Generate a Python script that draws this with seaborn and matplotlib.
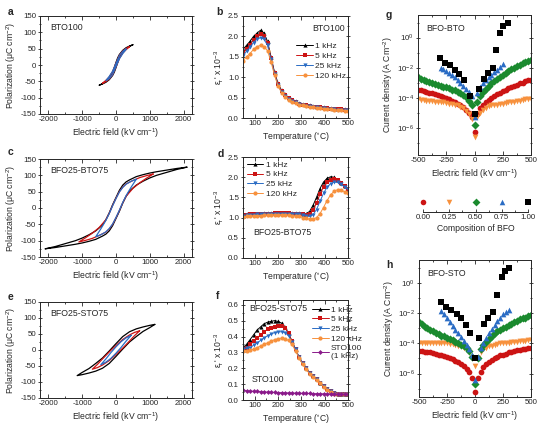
import numpy as np
import matplotlib
matplotlib.use("Agg")
import matplotlib.pyplot as plt
import matplotlib.ticker as mticker
import seaborn as sns

# ==========================================
# DATA

# hysteresis loops (upper branch, field going from +Emax to -Emax)
a_blk_E = [500, 400, 300, 200, 100, 50, 0, -50, -100, -200, -300, -400, -500]
a_blk_P = [62, 58, 53, 45, 32, 22, 8, -8, -22, -38, -49, -57, -62]
a_red_E = [400, 300, 200, 100, 0, -100, -200, -300, -400]
a_red_P = [56, 51, 43, 30, 6, -20, -37, -47, -56]
a_blu_E = [300, 200, 100, 0, -100, -200, -300]
a_blu_P = [50, 42, 29, 5, -19, -35, -48]

c_blk_E = [2100, 1800, 1500, 1200, 1000, 800, 600, 400, 300, 200, 100, 0,
           -100, -200, -300, -400, -600, -800, -1000, -1200, -1500, -1800, -2100]
c_blk_P = [125, 121, 116, 111, 107, 102, 96, 86, 80, 70, 54, 32,
           10, -15, -36, -52, -70, -82, -92, -100, -109, -118, -125]
c_red_E = [1100, 900, 700, 500, 300, 200, 100, 0, -100, -200, -300, -500, -700, -900, -1100]
c_red_P = [104, 99, 93, 84, 74, 64, 50, 30, 8, -16, -36, -60, -77, -91, -104]
c_blu_E = [600, 450, 300, 200, 100, 0, -100, -200, -300, -450, -600]
c_blu_P = [88, 82, 73, 63, 49, 29, 7, -17, -38, -64, -88]

e_blk_E = [1150, 1000, 800, 600, 400, 200, 0, -200, -400, -600, -800, -1000, -1150]
e_blk_P = [80, 77, 72, 66, 57, 42, 20, -3, -25, -42, -58, -70, -80]
e_red_E = [700, 550, 400, 200, 0, -200, -400, -550, -700]
e_red_P = [60, 55, 47, 33, 14, -6, -28, -45, -60]
e_blu_E = [450, 300, 150, 0, -150, -300, -450]
e_blu_P = [46, 38, 26, 10, -8, -28, -46]

# permittivity vs temperature (x 10^3)
temp = np.arange(50, 501, 15)
freqs = ["1 kHz", "5 kHz", "25 kHz", "120 kHz"]

b_1k = [1.68, 1.78, 1.88, 2.0, 2.08, 2.15, 2.08, 1.88, 1.5, 1.12, 0.85, 0.68, 0.58, 0.5, 0.45, 0.41,
        0.37, 0.35, 0.33, 0.31, 0.29, 0.28, 0.27, 0.26, 0.25, 0.24, 0.23, 0.22, 0.22, 0.21, 0.21]
b_5k = [1.6, 1.7, 1.8, 1.92, 2.0, 2.05, 2.0, 1.83, 1.47, 1.1, 0.83, 0.66, 0.56, 0.48, 0.43, 0.39,
        0.35, 0.33, 0.31, 0.3, 0.28, 0.27, 0.26, 0.25, 0.24, 0.23, 0.22, 0.21, 0.21, 0.2, 0.2]
b_25k = [1.53, 1.63, 1.73, 1.85, 1.93, 1.97, 1.93, 1.78, 1.44, 1.08, 0.81, 0.64, 0.54, 0.47, 0.42, 0.38,
         0.34, 0.32, 0.3, 0.29, 0.27, 0.26, 0.25, 0.24, 0.23, 0.22, 0.21, 0.2, 0.2, 0.19, 0.19]
b_120k = [1.4, 1.5, 1.58, 1.68, 1.75, 1.78, 1.75, 1.65, 1.38, 1.05, 0.79, 0.62, 0.52, 0.45, 0.4, 0.36,
          0.33, 0.31, 0.29, 0.28, 0.26, 0.25, 0.24, 0.23, 0.22, 0.21, 0.2, 0.19, 0.19, 0.18, 0.18]

d_1k = [1.07, 1.08, 1.09, 1.09, 1.1, 1.1, 1.11, 1.11, 1.12, 1.12, 1.12, 1.12, 1.12, 1.12, 1.12, 1.12,
        1.11, 1.1, 1.1, 1.15, 1.3, 1.5, 1.72, 1.88, 1.97, 2.01, 2.0, 1.93, 1.85, 1.78, 1.72]
d_5k = [1.06, 1.07, 1.08, 1.08, 1.09, 1.09, 1.1, 1.1, 1.1, 1.11, 1.11, 1.11, 1.11, 1.11, 1.1, 1.1,
        1.09, 1.08, 1.07, 1.08, 1.18, 1.36, 1.58, 1.76, 1.88, 1.94, 1.96, 1.92, 1.85, 1.78, 1.72]
d_25k = [1.05, 1.06, 1.07, 1.07, 1.08, 1.08, 1.09, 1.09, 1.09, 1.1, 1.1, 1.1, 1.1, 1.1, 1.09, 1.09,
         1.08, 1.06, 1.04, 1.03, 1.07, 1.2, 1.4, 1.6, 1.75, 1.84, 1.88, 1.87, 1.82, 1.76, 1.7]
d_120k = [1.02, 1.03, 1.04, 1.04, 1.05, 1.05, 1.06, 1.06, 1.06, 1.07, 1.07, 1.07, 1.07, 1.06, 1.05, 1.04,
          1.03, 1.0, 0.98, 0.96, 0.96, 1.0, 1.1, 1.25, 1.42, 1.56, 1.65, 1.69, 1.68, 1.64, 1.6]

f_1k = [0.33, 0.35, 0.38, 0.41, 0.44, 0.46, 0.48, 0.49, 0.495, 0.5, 0.495, 0.485, 0.46, 0.42, 0.37, 0.32,
        0.27, 0.23, 0.2, 0.17, 0.15, 0.13, 0.11, 0.09, 0.07, 0.055, 0.045, 0.04, 0.04, 0.04, 0.04]
f_5k = [0.32, 0.33, 0.35, 0.37, 0.39, 0.41, 0.43, 0.445, 0.455, 0.46, 0.465, 0.465, 0.455, 0.42, 0.37, 0.32,
        0.27, 0.23, 0.2, 0.17, 0.15, 0.13, 0.11, 0.09, 0.07, 0.055, 0.045, 0.04, 0.04, 0.04, 0.04]
f_25k = [0.32, 0.325, 0.33, 0.345, 0.36, 0.375, 0.39, 0.405, 0.415, 0.425, 0.43, 0.43, 0.425, 0.405, 0.365, 0.32,
         0.27, 0.23, 0.2, 0.17, 0.15, 0.13, 0.11, 0.09, 0.07, 0.055, 0.045, 0.04, 0.04, 0.04, 0.04]
f_120k = [0.31, 0.31, 0.315, 0.32, 0.33, 0.34, 0.35, 0.36, 0.37, 0.38, 0.385, 0.39, 0.385, 0.375, 0.35, 0.31,
          0.265, 0.225, 0.195, 0.165, 0.145, 0.125, 0.105, 0.085, 0.065, 0.05, 0.04, 0.035, 0.035, 0.035, 0.035]
f_sto = [0.06, 0.058, 0.056, 0.055, 0.054, 0.052, 0.051, 0.05, 0.049, 0.048, 0.047, 0.046, 0.045, 0.045, 0.044, 0.043,
         0.043, 0.042, 0.041, 0.041, 0.04, 0.04, 0.039, 0.039, 0.038, 0.038, 0.037, 0.037, 0.036, 0.036, 0.036]

# leakage current, log10(J)
field = np.arange(-500, 501, 25)
compositions = [0.00, 0.25, 0.50, 0.75, 1.00]

g_000 = [-3.45, -3.5, -3.55, -3.6, -3.65, -3.7, -3.75, -3.8, -3.9, -3.95, -4.0, -4.1, -4.2, -4.3, -4.4, -4.5,
         -4.6, -4.8, -5.0, -5.3, -6.3, -5.1, -4.7, -4.5, -4.3, -4.15, -4.0, -3.9, -3.75, -3.65, -3.55, -3.45,
         -3.35, -3.3, -3.2, -3.15, -3.05, -3.0, -2.9, -2.85, -2.8]
g_025 = [-4.1, -4.15, -4.15, -4.2, -4.2, -4.2, -4.25, -4.25, -4.3, -4.3, -4.35, -4.4, -4.4, -4.45, -4.5, -4.6,
         -4.7, -4.85, -5.05, -5.4, -6.6, -5.3, -5.0, -4.8, -4.65, -4.55, -4.5, -4.45, -4.45, -4.4, -4.4, -4.35,
         -4.3, -4.3, -4.25, -4.2, -4.2, -4.15, -4.1, -4.1, -4.05]
g_050 = [-2.65, -2.75, -2.85, -2.9, -2.95, -3.0, -3.1, -3.15, -3.2, -3.25, -3.3, -3.35, -3.45, -3.5, -3.6, -3.7,
         -3.8, -3.95, -4.2, -4.5, -5.8, -4.3, -3.9, -3.6, -3.4, -3.2, -3.05, -2.9, -2.75, -2.6, -2.5, -2.35,
         -2.25, -2.1, -2.0, -1.9, -1.8, -1.7, -1.65, -1.55, -1.5]
g_075_E = np.arange(-300, 251, 25)
g_075 = [-2.0, -2.1, -2.2, -2.35, -2.5, -2.65, -2.8, -3.0, -3.2, -3.4, -3.6, -3.9, -5.3, -3.7, -3.3, -3.05,
         -2.85, -2.65, -2.5, -2.3, -2.15, -1.95, -1.75]
g_100_E = [-305, -262, -220, -176, -136, -95, -42, 0, 41, 83, 121, 160, 189, 225, 254, 299]
g_100 = [-1.38, -1.67, -1.85, -2.15, -2.4, -2.85, -3.85, -5.1, -3.4, -2.75, -2.35, -2.0, -0.85, 0.3, 0.75, 0.95]

h_000 = [-4.5, -4.5, -4.55, -4.55, -4.6, -4.65, -4.7, -4.75, -4.8, -4.85, -4.9, -5.0, -5.05, -5.15, -5.25, -5.35,
         -5.5, -5.7, -5.9, -6.3, -7.2, -6.3, -5.9, -5.6, -5.4, -5.25, -5.1, -5.0, -4.9, -4.8, -4.75, -4.7,
         -4.6, -4.55, -4.5, -4.45, -4.45, -4.4, -4.35, -4.3, -4.3]
h_025 = [-3.95, -3.95, -3.95, -3.95, -4.0, -4.0, -4.0, -4.0, -4.0, -4.0, -4.0, -4.05, -4.05, -4.1, -4.15, -4.2,
         -4.3, -4.45, -4.6, -5.0, -5.5, -5.0, -4.6, -4.4, -4.3, -4.2, -4.15, -4.1, -4.05, -4.0, -4.0, -3.95,
         -3.95, -3.9, -3.9, -3.9, -3.85, -3.85, -3.85, -3.8, -3.8]
h_050 = [-2.6, -2.75, -2.9, -3.0, -3.1, -3.2, -3.3, -3.4, -3.5, -3.55, -3.65, -3.7, -3.8, -3.9, -4.0, -4.1,
         -4.2, -4.3, -4.5, -4.9, -6.7, -5.0, -4.4, -4.1, -3.9, -3.7, -3.5, -3.35, -3.2, -3.1, -3.0, -2.9,
         -2.8, -2.7, -2.6, -2.5, -2.4, -2.35, -2.3, -2.2, -2.15]
h_075_E = np.arange(-300, 301, 25)
h_075 = [-1.9, -2.1, -2.35, -2.6, -2.85, -3.1, -3.35, -3.6, -3.85, -4.1, -4.4, -4.8, -6.4, -4.9, -4.3, -3.95,
         -3.65, -3.35, -3.05, -2.8, -2.55, -2.3, -2.1, -1.95, -1.8]
h_100_E = [-300, -255, -210, -165, -121, -82, -46, 0, 37, 79, 118, 157, 193, 237, 267, 303]
h_100 = [-1.3, -1.6, -1.8, -2.1, -2.3, -2.8, -3.3, -5.0, -3.65, -2.7, -2.3, -1.95, -0.8, 0.4, 0.8, 0.95]

# ==========================================
# STYLE

sns.set_style("ticks")
plt.rcParams["font.family"] = ["Liberation Sans", "DejaVu Sans"]
plt.rcParams["axes.unicode_minus"] = False
plt.rcParams["mathtext.default"] = "regular"
plt.rcParams["axes.linewidth"] = 0.7

BLACK = "#000000"
RED = "#cc1414"
BLUE = "#2a6cc4"
ORANGE = "#f7913d"
GREEN = "#1a8a2e"
PURPLE = "#8a1a8a"
freq_colors = [BLACK, RED, BLUE, ORANGE]
freq_markers = ["^", "s", "v", "o"]
comp_colors = [RED, ORANGE, GREEN, BLUE, BLACK]
comp_markers = ["o", "v", "D", "^", "s"]

W, H = 549, 436
fig = plt.figure(figsize=(W / 100, H / 100), dpi=100)


def add_ax(left, top, right, bottom):
    return fig.add_axes([left / W, 1 - bottom / H, (right - left) / W, (bottom - top) / H])


def style(ax):
    ax.tick_params(which="both", top=True, right=True, labelsize=5.7, width=0.6, pad=1.5)
    ax.tick_params(axis="x", which="both", direction="in")
    ax.tick_params(axis="y", which="both", direction="inout")
    ax.tick_params(which="major", length=2.8)
    ax.tick_params(which="minor", length=1.6)
    ax.xaxis.label.set_size(6.2)
    ax.yaxis.label.set_size(6.2)
    ax.xaxis.labelpad = 2
    ax.yaxis.labelpad = 1.5


def panel_letter(x, y, s):
    fig.text(x / W, 1 - y / H, s, fontsize=7.5, fontweight="bold", va="center", ha="left")


# ==========================================
# HYSTERESIS LOOPS


def loop(ax, E, P, color):
    # lower branch is the point reflection of the upper one
    E = np.asarray(E, dtype=float)
    P = np.asarray(P, dtype=float)
    xs = np.concatenate([E, -E[1:]])
    ys = np.concatenate([P, -P[1:]])
    sns.lineplot(x=xs, y=ys, sort=False, estimator=None, color=color, lw=0.9, ax=ax)


def pe_axes(ax, name):
    ax.set_xlim(-2250, 2250)
    ax.set_ylim(-150, 150)
    ax.xaxis.set_major_locator(mticker.MultipleLocator(1000))
    ax.xaxis.set_minor_locator(mticker.MultipleLocator(500))
    ax.yaxis.set_major_locator(mticker.MultipleLocator(50))
    ax.yaxis.set_minor_locator(mticker.MultipleLocator(25))
    ax.set_xlabel("Electric field (kV cm$^{-1}$)")
    ax.set_ylabel("Polarization ($\\mu$C cm$^{-2}$)")
    ax.text(0.07, 0.88, name, transform=ax.transAxes, fontsize=6.3, va="center")
    style(ax)


ax_a = add_ax(40, 16, 192, 114)
loop(ax_a, a_blk_E, a_blk_P, BLACK)
loop(ax_a, a_red_E, a_red_P, RED)
loop(ax_a, a_blu_E, a_blu_P, BLUE)
pe_axes(ax_a, "BTO100")

ax_c = add_ax(40, 159, 192, 257)
loop(ax_c, c_blk_E, c_blk_P, BLACK)
loop(ax_c, c_red_E, c_red_P, RED)
loop(ax_c, c_blu_E, c_blu_P, BLUE)
pe_axes(ax_c, "BFO25-BTO75")

ax_e = add_ax(40, 302, 192, 398)
loop(ax_e, e_blk_E, e_blk_P, BLACK)
loop(ax_e, e_red_E, e_red_P, RED)
loop(ax_e, e_blu_E, e_blu_P, BLUE)
pe_axes(ax_e, "BFO25-STO75")

# ==========================================
# PERMITTIVITY


def perm(ax, series, ymax, ystep):
    for vals, lab, c, m in zip(series, freqs, freq_colors, freq_markers):
        sns.lineplot(x=temp, y=vals, estimator=None, color=c, marker=m, markersize=3,
                     markeredgewidth=0, lw=0.7, label=lab, ax=ax)
    ax.set_xlim(50, 500)
    ax.set_ylim(0, ymax)
    ax.xaxis.set_major_locator(mticker.MultipleLocator(100))
    ax.xaxis.set_minor_locator(mticker.MultipleLocator(50))
    ax.yaxis.set_major_locator(mticker.MultipleLocator(ystep))
    ax.yaxis.set_minor_locator(mticker.MultipleLocator(ystep / 2))
    ax.set_xlabel("Temperature ($^{\\circ}$C)")
    ax.set_ylabel("$\\epsilon_r$' x 10$^{-3}$")
    style(ax)


leg_kw = dict(fontsize=6, frameon=False, handlelength=2.0, handletextpad=0.3,
              labelspacing=0.25, borderpad=0.1, borderaxespad=0.1)

ax_b = add_ax(243, 16, 348, 118)
perm(ax_b, [b_1k, b_5k, b_25k, b_120k], 2.5, 0.5)
ax_b.yaxis.set_major_formatter(mticker.FormatStrFormatter("%.1f"))
ax_b.text(0.97, 0.88, "BTO100", transform=ax_b.transAxes, fontsize=6.3, va="center", ha="right")
ax_b.legend(loc="upper right", bbox_to_anchor=(1.0, 0.76), **leg_kw)

ax_d = add_ax(243, 157, 348, 258)
perm(ax_d, [d_1k, d_5k, d_25k, d_120k], 2.5, 0.5)
ax_d.yaxis.set_major_formatter(mticker.FormatStrFormatter("%.1f"))
ax_d.text(0.095, 0.25, "BFO25-BTO75", transform=ax_d.transAxes, fontsize=6.3, va="center")
ax_d.legend(loc="upper left", bbox_to_anchor=(0.02, 0.98), **leg_kw)

ax_f = add_ax(243, 300, 348, 400)
perm(ax_f, [f_1k, f_5k, f_25k, f_120k], 0.63, 0.1)
sns.lineplot(x=temp, y=f_sto, estimator=None, color=PURPLE, marker="D", markersize=2.5,
             markeredgewidth=0, lw=0.7, label="STO100\n(1 kHz)", ax=ax_f)
ax_f.yaxis.set_major_formatter(mticker.FormatStrFormatter("%.1f"))
ax_f.text(0.06, 0.92, "BFO25-STO75", transform=ax_f.transAxes, fontsize=6.3, va="center")
ax_f.text(0.08, 0.21, "STO100", transform=ax_f.transAxes, fontsize=6.3, va="center")
ax_f.legend(loc="upper left", bbox_to_anchor=(0.64, 0.96), **leg_kw)

# ==========================================
# LEAKAGE CURRENT


def leakage(ax, sets, name, ylo):
    for (E, vals), c, m in zip(sets, comp_colors, comp_markers):
        sns.scatterplot(x=E, y=10.0 ** np.asarray(vals), color=c, marker=m, s=17,
                        linewidth=0, ax=ax)
    ax.set_yscale("log")
    ax.set_xlim(-500, 500)
    ax.set_ylim(10 ** ylo, 10 ** 1.5)
    ax.xaxis.set_major_locator(mticker.MultipleLocator(250))
    ax.xaxis.set_minor_locator(mticker.MultipleLocator(125))
    ax.yaxis.set_major_locator(mticker.FixedLocator([1e-6, 1e-4, 1e-2, 1e0]))
    ax.yaxis.set_minor_locator(mticker.FixedLocator([1e-7, 1e-5, 1e-3, 1e-1, 1e1]))
    ax.yaxis.set_major_formatter(mticker.LogFormatterMathtext())
    ax.yaxis.set_minor_formatter(mticker.NullFormatter())
    ax.set_xlabel("Electric field (kV cm$^{-1}$)")
    ax.set_ylabel("Current density (A Cm$^{-2}$)")
    ax.text(0.07, 0.905, name, transform=ax.transAxes, fontsize=6.3, va="center")
    style(ax)


ax_g = add_ax(418, 15, 531, 155)
leakage(ax_g, [(field, g_000), (field, g_025), (field, g_050), (g_075_E, g_075), (g_100_E, g_100)],
        "BFO-BTO", -7.8)

ax_h = add_ax(419, 260, 531, 397)
leakage(ax_h, [(field, h_000), (field, h_025), (field, h_050), (h_075_E, h_075), (h_100_E, h_100)],
        "BFO-STO", -7.55)

# composition key
ax_k = add_ax(423, 196, 528, 212)
for x, c, m in zip(compositions, comp_colors, comp_markers):
    ax_k.scatter([x], [0.6], color=c, marker=m, s=16, linewidth=0, clip_on=False)
ax_k.set_xlim(0, 1)
ax_k.set_ylim(0, 1)
for sp in ["top", "left", "right"]:
    ax_k.spines[sp].set_visible(False)
ax_k.set_yticks([])
ax_k.xaxis.set_major_locator(mticker.FixedLocator(compositions))
ax_k.xaxis.set_minor_locator(mticker.MultipleLocator(0.125))
ax_k.xaxis.set_major_formatter(mticker.FormatStrFormatter("%.2f"))
ax_k.tick_params(axis="x", which="both", direction="in", labelsize=5.7, width=0.6, pad=1.5)
ax_k.tick_params(axis="x", which="major", length=2.5)
ax_k.tick_params(axis="x", which="minor", length=1.5)
ax_k.set_xlabel("Composition of BFO", fontsize=6.2, labelpad=2)
ax_k.patch.set_alpha(0)

panel_letter(8, 12, "a")
panel_letter(216, 12, "b")
panel_letter(8, 152, "c")
panel_letter(218, 154, "d")
panel_letter(8, 297, "e")
panel_letter(216, 296, "f")
panel_letter(386, 15, "g")
panel_letter(386, 265, "h")

plt.savefig("out.png", dpi=100)
